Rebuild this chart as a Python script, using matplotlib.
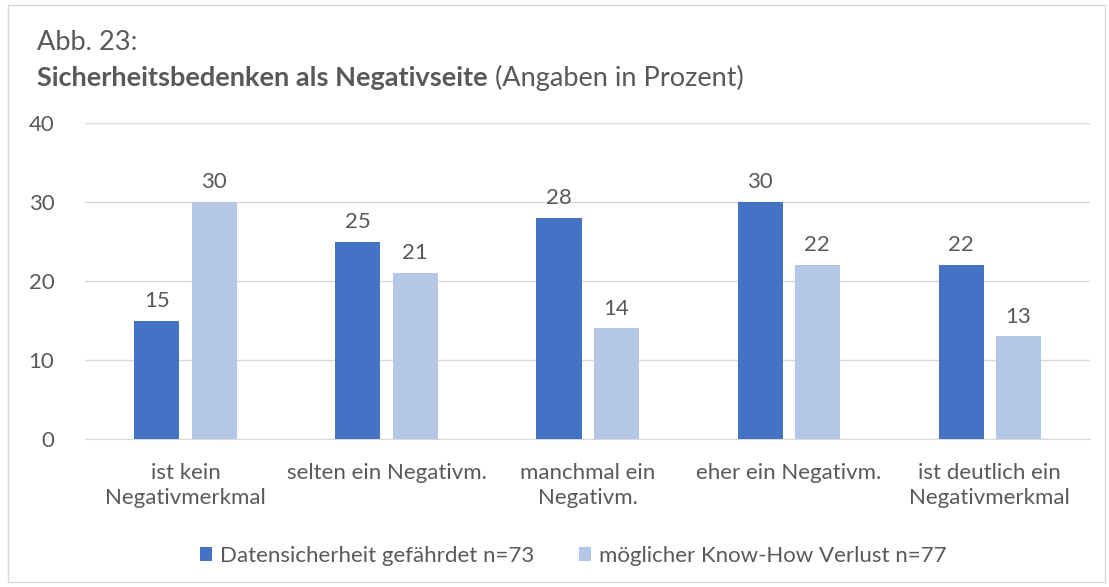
import matplotlib.pyplot as plt
import numpy as np
from matplotlib.patches import Rectangle

categories = ['ist kein\nNegativmerkmal', 'selten ein Negativm.', 'manchmal ein\nNegativm.',
              'eher ein Negativm.', 'ist deutlich ein\nNegativmerkmal']
datensicherheit = [15, 25, 28, 30, 22]
know_how = [30, 21, 14, 22, 13]
series_labels = ['Datensicherheit gefährdet n=73', 'möglicher Know-How Verlust n=77']

plt.rcParams['font.family'] = ['Lato', 'DejaVu Sans']
text_color = '#595959'
fs = 16

fig = plt.figure(figsize=(11.09, 5.87), dpi=100)
ax = fig.add_axes([0.0766, 0.252, 0.9064, 0.5385])

x = np.arange(len(categories))
width = 0.224
offset = 0.142
b1 = ax.bar(x - offset, datensicherheit, width, color='#4472C4', label=series_labels[0], zorder=3)
b2 = ax.bar(x + offset, know_how, width, color='#B4C7E7', label=series_labels[1], zorder=3)

for bars in (b1, b2):
    ax.bar_label(bars, padding=7, fontsize=fs, color=text_color)

ax.set_xlim(-0.5, len(categories) - 0.5)
ax.set_ylim(0, 40)
ax.set_yticks([0, 10, 20, 30, 40])
ax.yaxis.grid(True, color='#D9D9D9', linewidth=1, zorder=0)
for s in ['top', 'right', 'left']:
    ax.spines[s].set_visible(False)
ax.spines['bottom'].set_color('#D9D9D9')
ax.tick_params(axis='both', length=0, labelsize=fs, colors=text_color)
ax.tick_params(axis='y', pad=22)
ax.tick_params(axis='x', pad=17)
ax.set_xticks(x)
ax.set_xticklabels(categories, linespacing=1.35)

leg = fig.legend(handles=[b1, b2], loc='center', bbox_to_anchor=(0.517, 0.053), ncol=2,
                 frameon=False, fontsize=fs, handlelength=0.55, handleheight=0.55,
                 columnspacing=2.0, handletextpad=0.35)
for t in leg.get_texts():
    t.set_color(text_color)

fig.text(0.0334, 0.928, 'Abb. 23:', fontsize=19.5, color=text_color, va='center')
t1 = fig.text(0.0334, 0.867, 'Sicherheitsbedenken als Negativseite', fontsize=19.5,
              fontweight='bold', color=text_color, va='center')
ax.annotate(' (Angaben in Prozent)', xy=(1, 0.5), xycoords=t1, va='center',
            fontsize=19.5, color=text_color)

fig.patches.append(Rectangle((0.007, 0.008), 0.989, 0.984, transform=fig.transFigure,
                             fill=False, edgecolor='#D9D9D9', linewidth=1))

fig.savefig('out.png', dpi=100)
